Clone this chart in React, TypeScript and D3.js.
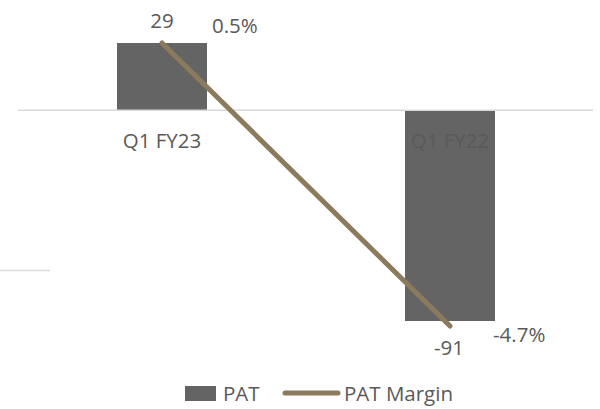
import React from "react";
import * as d3 from "d3";

const quarters = ["Q1 FY23", "Q1 FY22"];
const patValues = [29, -91];
const marginValues = [0.5, -4.7];
const marginLabels = ["0.5%", "-4.7%"];

const W = 600;
const H = 409;
const barColor = "#646464";
const lineColor = "#8b7a5c";
const textColor = "#595959";
const font = "'Open Sans', sans-serif";
const fs = 20.5;

const App = () => {
  const x = d3.scaleBand<string>()
    .domain(quarters)
    .range([18, 594])
    .paddingInner(0.6875)
    .paddingOuter(0.34375);
  const y = d3.scaleLinear().domain([-91, 29]).range([321, 43]);
  const yM = d3.scaleLinear().domain([-4.7, 0.5]).range([326, 43]);

  const pts: [number, number][] = quarters.map((q, i) => [
    (x(q) as number) + x.bandwidth() / 2,
    yM(marginValues[i]),
  ]);
  const line = d3.line();
  const cx = (q: string) => (x(q) as number) + x.bandwidth() / 2;

  return (
    <svg width={W} height={H} style={{ position: "absolute", left: 0, top: 0 }} fontFamily={font}>
      <rect width={W} height={H} fill="white" />
      {/* stray gridline stub on the left */}
      <line x1={0} x2={50} y1={270.5} y2={270.5} stroke="#d9d9d9" strokeWidth={1.5} />

      {quarters.map((q, i) => (
        <rect key={q} x={x(q)} width={x.bandwidth()}
          y={y(Math.max(0, patValues[i]))}
          height={Math.abs(y(patValues[i]) - y(0))}
          fill={barColor} />
      ))}

      <line x1={18} x2={593} y1={y(0)} y2={y(0)} stroke="#d9d9d9" strokeWidth={1.5} />

      {quarters.map((q) => (
        <text key={q} x={cx(q)} y={y(0) + 38} textAnchor="middle" fontSize={fs} fill={textColor}>{q}</text>
      ))}

      <path d={line(pts) ?? ""} fill="none" stroke={lineColor} strokeWidth={5} strokeLinecap="round" />

      {quarters.map((q, i) => {
        const v = patValues[i];
        return (
          <text key={"pv" + q} x={cx(q) + (v >= 0 ? 0 : -1)} y={v >= 0 ? y(v) - 15 : y(v) + 34}
            textAnchor="middle" fontSize={fs} fill={textColor}>{v}</text>
        );
      })}
      {quarters.map((q, i) => (
        <text key={"mv" + q} x={cx(q) + (i === 0 ? 50 : 43)} y={yM(marginValues[i]) + (i === 0 ? -10 : 16)}
          fontSize={fs} fill={textColor}>{marginLabels[i]}</text>
      ))}

      <g fontSize={fs} fill={textColor}>
        <rect x={185} y={386} width={31} height={15} fill={barColor} />
        <text x={223} y={401}>PAT</text>
        <line x1={285} x2={338} y1={393} y2={393} stroke={lineColor} strokeWidth={5} strokeLinecap="round" />
        <text x={344} y={401}>PAT Margin</text>
      </g>
    </svg>
  );
};

export default App;
